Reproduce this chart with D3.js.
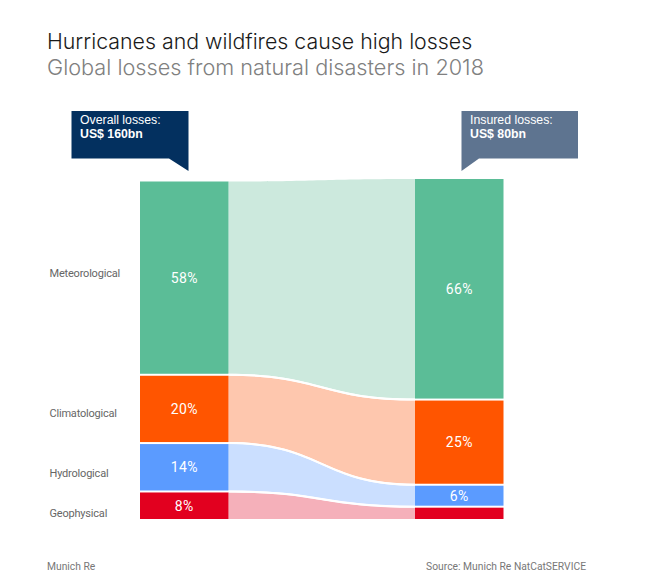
<!DOCTYPE html>
<html>
<head>
<meta charset="utf-8">
<script src="https://cdn.jsdelivr.net/npm/d3@7"></script>
<style>
  html, body { margin: 0; padding: 0; background: #fff; }
  svg { display: block; }
  text { font-family: Inter, "Liberation Sans", sans-serif; }
</style>
</head>
<body>
<div id="chart"></div>
<script>
const categories = ['Meteorological', 'Climatological', 'Hydrological', 'Geophysical'];
const overallShare = [58, 20, 14, 8];
// last one has no label in the chart
const insuredShare = [66, 25, 6, 3.4];
const insuredLabels = ['66%', '25%', '6%', ''];
const overallLabels = ['58%', '20%', '14%', '8%'];
const solidColors = ['#5bbd97', '#ff5500', '#5b9bff', '#e2001f'];
const paleColors = ['#cce9dd', '#fec7ae', '#cbdfff', '#f5b0ba'];

const width = 650;
const height = 579;
const bottom = 519;
const gap = 2;
const barWidth = 88.5;
const leftX = 140;
const rightX = 415;
// label nudges, the side labels don't sit exactly on the segment centre
const nameNudge = [-4, 5, 7, 8];

const svg = d3.select('#chart').append('svg')
  .attr('width', width)
  .attr('height', height);

svg.append('rect').attr('width', width).attr('height', height).attr('fill', '#fff');

// one scale per column, the right one runs a bit taller
const yLeft = d3.scaleLinear().domain([0, d3.sum(overallShare)]).range([bottom, bottom - 331.5]);
const yRight = d3.scaleLinear().domain([0, d3.sum(insuredShare)]).range([bottom, bottom - 334]);

function stackColumn(values, y) {
  let sum = d3.sum(values);
  return values.map((v, i) => {
    const gapsBelow = values.length - 1 - i;
    const top = y(sum) - gapsBelow * gap;
    const bot = y(sum - v) - gapsBelow * gap;
    sum -= v;
    return { top, bot };
  });
}

const leftSegs = stackColumn(overallShare, yLeft);
const rightSegs = stackColumn(insuredShare, yRight);

const band = d3.area()
  .x((d) => d.x)
  .y0((d) => d.y0)
  .y1((d) => d.y1)
  .curve(d3.curveBumpX);

const edge = d3.line()
  .x((d) => d.x)
  .y((d) => d.y)
  .curve(d3.curveBumpX);

categories.forEach((name, i) => {
  const l = leftSegs[i];
  const r = rightSegs[i];
  const pts = [
    { x: leftX + barWidth, y0: l.top, y1: l.bot },
    { x: rightX, y0: r.top, y1: r.bot },
  ];
  svg.append('path').attr('d', band(pts)).attr('fill', paleColors[i]);
  if (i > 0) {
    // white line between the bands
    svg.append('path')
      .attr('d', edge([{ x: pts[0].x, y: l.top - gap / 2 }, { x: pts[1].x, y: r.top - gap / 2 }]))
      .attr('fill', 'none')
      .attr('stroke', '#fff')
      .attr('stroke-width', gap);
  }

  svg.append('rect')
    .attr('x', leftX).attr('y', l.top)
    .attr('width', barWidth).attr('height', l.bot - l.top)
    .attr('fill', solidColors[i]);
  svg.append('rect')
    .attr('x', rightX).attr('y', r.top)
    .attr('width', barWidth).attr('height', r.bot - r.top)
    .attr('fill', solidColors[i]);

  svg.append('text')
    .attr('x', leftX + barWidth / 2).attr('y', (l.top + l.bot) / 2 + 1.5)
    .attr('text-anchor', 'middle').attr('dominant-baseline', 'middle')
    .attr('fill', '#fff').attr('font-size', 14).attr('letter-spacing', 0.4)
    .style('font-family', 'Roboto')
    .text(overallLabels[i]);
  svg.append('text')
    .attr('x', rightX + barWidth / 2).attr('y', (r.top + r.bot) / 2 + 1.5)
    .attr('text-anchor', 'middle').attr('dominant-baseline', 'middle')
    .attr('fill', '#fff').attr('font-size', 14).attr('letter-spacing', 0.4)
    .style('font-family', 'Roboto')
    .text(insuredLabels[i]);

  svg.append('text')
    .attr('x', 49.5).attr('y', (l.top + l.bot) / 2 + nameNudge[i])
    .attr('dominant-baseline', 'middle')
    .attr('fill', '#666').attr('font-size', 11).attr('letter-spacing', -0.2)
    .style('font-family', 'Roboto')
    .text(name);
});

// callouts
function callout(x0, x1, tailTip, tailBase, fill, lines) {
  const top = 111;
  const bot = 158.5;
  const tipY = 171;
  const path = d3.path();
  path.moveTo(x0, top);
  path.lineTo(x1, top);
  if (tailTip === x1) {
    path.lineTo(x1, tipY);
    path.lineTo(tailBase, bot);
    path.lineTo(x0, bot);
  } else {
    path.lineTo(x1, bot);
    path.lineTo(tailBase, bot);
    path.lineTo(x0, tipY);
  }
  path.closePath();
  svg.append('path').attr('d', path.toString()).attr('fill', fill);
  svg.append('text')
    .attr('x', x0 + 8.5).attr('y', 124)
    .attr('fill', '#fff').attr('font-size', 12.3)
    .style('font-family', '"Liberation Sans"')
    .text(lines[0]);
  svg.append('text')
    .attr('x', x0 + 8.5).attr('y', 138)
    .attr('fill', '#fff').attr('font-size', 12.3).attr('font-weight', 700)
    .style('font-family', '"Liberation Sans"')
    .text(lines[1]);
}

callout(71.5, 188.5, 188.5, 169, '#03305f', ['Overall losses:', 'US$ 160bn']);
callout(461.5, 578, 461.5, 479, '#5e7490', ['Insured losses:', 'US$ 80bn']);

// titles
svg.append('text')
  .attr('x', 47).attr('y', 49)
  .attr('fill', '#1a1a1a').attr('font-size', 21.35).attr('font-weight', 300)
  .text('Hurricanes and wildfires cause high losses');
svg.append('text')
  .attr('x', 47).attr('y', 75)
  .attr('fill', '#808080').attr('font-size', 21.7).attr('font-weight', 300)
  .text('Global losses from natural disasters in 2018');

// footer
svg.append('text')
  .attr('x', 47).attr('y', 570)
  .attr('fill', '#777').attr('font-size', 10.3)
  .style('font-family', 'Roboto')
  .text('Munich Re');
svg.append('text')
  .attr('x', 586).attr('y', 570)
  .attr('text-anchor', 'end')
  .attr('fill', '#777').attr('font-size', 10.3)
  .style('font-family', 'Roboto')
  .text('Source: Munich Re NatCatSERVICE');
</script>
</body>
</html>
